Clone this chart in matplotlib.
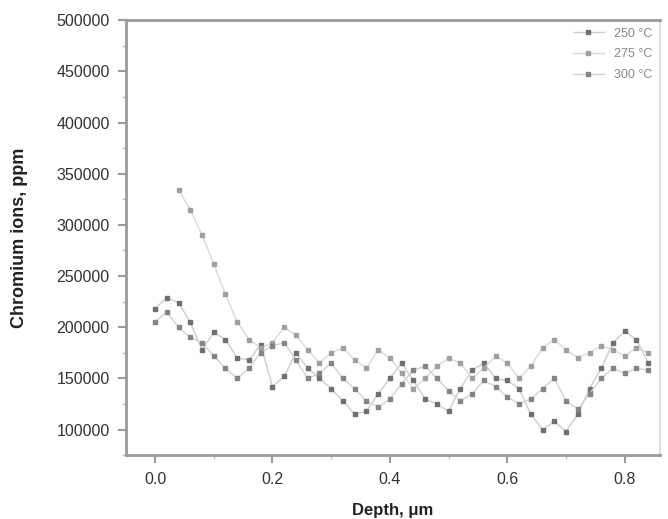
import numpy as np
import matplotlib
matplotlib.use("Agg")
import matplotlib.pyplot as plt
from matplotlib.ticker import MultipleLocator

plt.rcParams['font.family'] = ['Liberation Sans', 'DejaVu Sans']

depth = [0.00, 0.02, 0.04, 0.06, 0.08, 0.10, 0.12, 0.14, 0.16, 0.18, 0.20,
         0.22, 0.24, 0.26, 0.28, 0.30, 0.32, 0.34, 0.36, 0.38, 0.40, 0.42,
         0.44, 0.46, 0.48, 0.50, 0.52, 0.54, 0.56, 0.58, 0.60, 0.62, 0.64,
         0.66, 0.68, 0.70, 0.72, 0.74, 0.76, 0.78, 0.80, 0.82, 0.84]

# 250 C
cr_250 = [218000, 229000, 224000, 205000, 178000, 195000, 188000, 170000,
          168000, 183000, 142000, 152000, 175000, 160000, 150000, 140000,
          128000, 115000, 118000, 135000, 150000, 165000, 148000, 130000,
          125000, 118000, 140000, 158000, 165000, 150000, 148000, 140000,
          115000, 100000, 108000, 98000, 115000, 140000, 160000, 185000,
          196000, 188000, 165000]

# 275 C (starts a bit deeper)
depth_275 = depth[2:]
cr_275 = [334000, 315000, 290000, 262000, 232000, 205000, 188000, 180000,
          185000, 200000, 192000, 178000, 165000, 175000, 180000, 168000,
          160000, 178000, 170000, 155000, 140000, 150000, 162000, 170000,
          165000, 150000, 160000, 172000, 165000, 150000, 162000, 180000,
          188000, 178000, 170000, 175000, 182000, 178000, 172000, 180000,
          175000]

# 300 C
cr_300 = [205000, 215000, 200000, 190000, 185000, 172000, 160000, 150000,
          160000, 175000, 182000, 185000, 168000, 150000, 155000, 165000,
          150000, 140000, 128000, 122000, 130000, 145000, 158000, 162000,
          150000, 138000, 128000, 135000, 148000, 142000, 132000, 125000,
          130000, 140000, 150000, 128000, 120000, 135000, 150000, 160000,
          155000, 160000, 158000]

labels = ['250 \u00b0C', '275 \u00b0C', '300 \u00b0C']

fig = plt.figure(figsize=(6.68, 5.19), dpi=100)
ax = fig.add_axes([0.189, 0.123, 0.799, 0.838])

ax.plot(depth, cr_250, color='#cdcdcd', lw=1.0, marker='s', ms=2.3,
        mfc='#707070', mec='#707070', label=labels[0])
ax.plot(depth_275, cr_275, color='#dadada', lw=1.0, marker='s', ms=2.3,
        mfc='#a0a0a0', mec='#a0a0a0', label=labels[1])
ax.plot(depth, cr_300, color='#d2d2d2', lw=1.0, marker='s', ms=2.3,
        mfc='#858585', mec='#858585', label=labels[2])

ax.set_xlim(-0.049, 0.86)
ax.set_ylim(75000, 500000)
ax.xaxis.set_minor_locator(MultipleLocator(0.1))
ax.yaxis.set_minor_locator(MultipleLocator(25000))
ax.set_xticks(np.arange(0.0, 0.81, 0.2))
ax.set_xticklabels(['0.0', '0.2', '0.4', '0.6', '0.8'])
ax.set_yticks(np.arange(100000, 500001, 50000))

for s in ['left', 'bottom', 'top']:
    ax.spines[s].set_color('#9a9a9a')
    ax.spines[s].set_linewidth(2)
ax.spines['right'].set_color('#e0e0e0')
ax.spines['right'].set_linewidth(1.5)

ax.tick_params(which='major', direction='out', length=6, width=1.5, pad=6,
               color='#9a9a9a', labelsize=11.5, labelcolor='#333333')
ax.tick_params(which='minor', direction='out', length=3, width=1,
               color='#c0c0c0')
ax.tick_params(top=False, right=False, which='both')

ax.set_xlabel('Depth, \u03bcm', fontsize=12, fontweight='bold', color='#222222',
              labelpad=12)
ax.set_ylabel('Chromium ions, ppm', fontsize=13, fontweight='bold',
              color='#222222', labelpad=20)

leg = ax.legend(loc='upper right', frameon=False, fontsize=9, handlelength=2.5,
                labelcolor='#888888', borderaxespad=0.2, labelspacing=0.7)

fig.savefig('out.png', dpi=100)
